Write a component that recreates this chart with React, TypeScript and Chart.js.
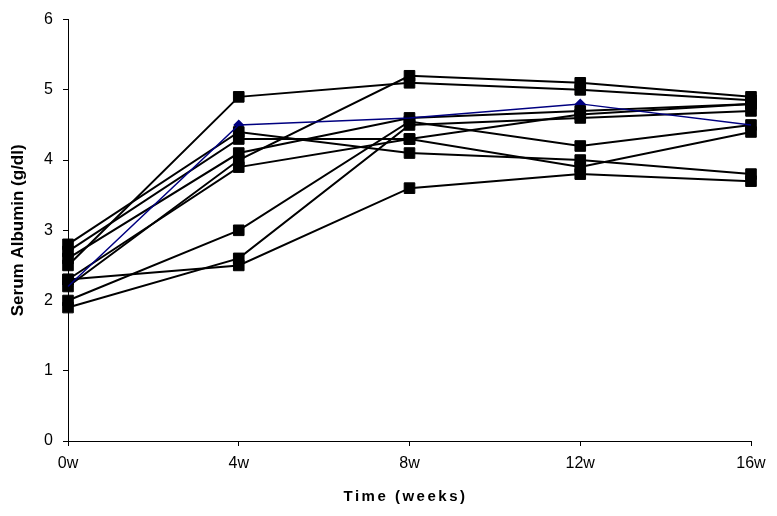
import React, { useEffect, useRef } from "react";
import { Chart, registerables } from "chart.js";

Chart.register(...registerables);

const weeks = ["0w", "4w", "8w", "12w", "16w"];
const yTitle = "Serum Albumin (g/dl)";
const xTitle = "Time (weeks)";

// patient series (g/dl)
const blueSeries = [2.2, 4.5, 4.6, 4.8, 4.5];
const p1 = [2.5, 4.9, 5.1, 5.0, 4.85];
const p2 = [2.8, 4.4, 4.1, 4.0, 3.8];
const p3 = [2.7, 4.3, 4.3, 4.65, 4.8];
const p4 = [2.6, 4.1, 4.6, 4.7, 4.8];
const p5 = [2.2, 4.0, 5.2, 5.1, 4.9];
const p6 = [2.3, 3.9, 4.3, 3.9, 4.4];
const p7 = [2.0, 3.0, 4.55, 4.2, 4.5];
const p8 = [1.9, 2.6, 4.5, 4.6, 4.7];
const p9 = [2.3, 2.5, 3.6, 3.8, 3.7];
const blackSeries = [p1, p2, p3, p4, p5, p6, p7, p8, p9];

const FONT = "'Liberation Sans Narrow', 'Liberation Sans', Arial, sans-serif";

export default function App() {
  const ref = useRef<HTMLCanvasElement | null>(null);

  useEffect(() => {
    document.body.style.margin = "0";
    const canvas = ref.current;
    if (!canvas) return;

    const datasets: any[] = [
      // blue line drawn on top of the black lines
      {
        label: "blue",
        data: blueSeries,
        borderColor: "#000080",
        backgroundColor: "#000080",
        borderWidth: 1.5,
        pointRadius: 0,
        tension: 0,
      },
      ...blackSeries.map((d, i) => ({
        label: "p" + (i + 1),
        data: d,
        borderColor: "#000000",
        backgroundColor: "#000000",
        borderWidth: 2,
        pointStyle: "rect",
        pointRadius: 7.5,
        pointBorderWidth: 1,
        tension: 0,
      })),
      // blue diamond markers beneath the black squares
      {
        label: "blue markers",
        data: blueSeries,
        showLine: false,
        borderColor: "#000080",
        backgroundColor: "#000080",
        pointStyle: "rectRot",
        pointRadius: 5.5,
        pointBorderWidth: 0,
      },
    ];

    const xTitlePlugin = {
      id: "xTitlePlugin",
      afterDraw(chart: any) {
        const ctx = chart.ctx;
        ctx.save();
        ctx.font = "bold 15px 'Liberation Sans', Arial, sans-serif";
        try {
          (ctx as any).letterSpacing = "2.5px";
        } catch (e) {}
        ctx.textAlign = "center";
        ctx.textBaseline = "middle";
        ctx.fillStyle = "#000";
        const cx = (chart.chartArea.left + chart.chartArea.right) / 2 - 4;
        ctx.fillText(xTitle, cx, 497);
        ctx.restore();
      },
    };

    const chart = new Chart(canvas, {
      type: "line",
      data: { labels: weeks, datasets },
      options: {
        animation: false,
        responsive: false,
        maintainAspectRatio: false,
        layout: { padding: { top: 14, right: 26, left: 0, bottom: 0 } },
        plugins: {
          legend: { display: false },
          tooltip: { enabled: false },
          title: { display: false },
        },
        scales: {
          x: {
            type: "category",
            offset: false,
            grid: {
              drawOnChartArea: false,
              drawTicks: true,
              tickLength: 5,
              color: "#000",
            },
            border: { display: true, color: "#000", width: 1 },
            ticks: {
              color: "#000",
              font: { family: FONT, size: 16 },
              padding: 8,
              maxRotation: 0,
              autoSkip: false,
            },
            afterFit(scale: any) {
              scale.height = 75;
            },
          },
          y: {
            min: 0,
            max: 6,
            grid: {
              drawOnChartArea: false,
              drawTicks: true,
              tickLength: 5,
              color: "#000",
            },
            border: { display: true, color: "#000", width: 1 },
            ticks: {
              stepSize: 1,
              color: "#000",
              font: { family: FONT, size: 16 },
              padding: 10,
            },
            title: {
              display: true,
              text: yTitle,
              color: "#000",
              font: { family: "'Liberation Sans', Arial, sans-serif", size: 17, weight: "bold" },
              padding: { top: 8, bottom: 0 },
            },
            afterFit(scale: any) {
              scale.width = 68;
            },
          },
        },
      },
      plugins: [xTitlePlugin],
    });

    return () => chart.destroy();
  }, []);

  return (
    <div style={{ width: 777, height: 516, background: "#fff" }}>
      <canvas ref={ref} width={777} height={516} style={{ display: "block" }} />
    </div>
  );
}
